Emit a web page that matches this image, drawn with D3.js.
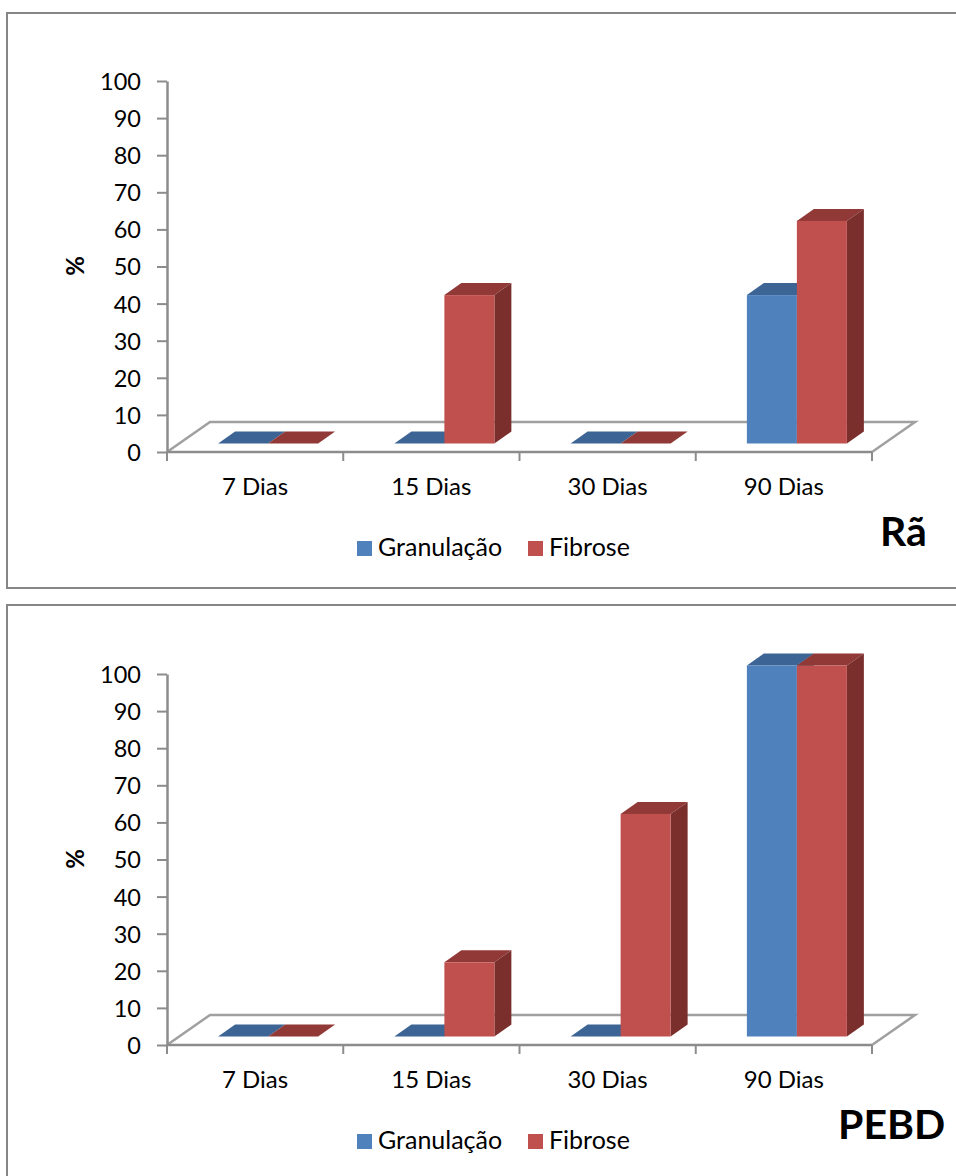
<!DOCTYPE html>
<html>
<head>
<meta charset="utf-8">
<script src="https://cdn.jsdelivr.net/npm/d3@7"></script>
<style>
	html, body { margin: 0; padding: 0; background: #fff; }
	svg { display: block; }
	text { font-family: Lato, "Noto Sans", sans-serif; fill: #000; }
</style>
</head>
<body>
<div id="chart"></div>
<script>
// Data
const categories = ['7 Dias', '15 Dias', '30 Dias', '90 Dias'];
const seriesNames = ['Granulação', 'Fibrose'];
const yTicks = [0, 10, 20, 30, 40, 50, 60, 70, 80, 90, 100];
const raGranulacao = [0, 0, 0, 40];
const raFibrose = [0, 40, 0, 60];
const pebdGranulacao = [0, 0, 0, 100];
const pebdFibrose = [0, 20, 60, 100];

const colors = ['#4f81bd', '#c0504d'];
const topColors = ['#3c6494', '#913937'];
const sideColors = ['#335580', '#7b2f2d'];
const axisColor = '#8c8c8c';

const svg = d3.select('#chart').append('svg').attr('width', 956).attr('height', 1176);

// 3D offsets of the floor and of the bars
const floorDx = 43, floorDy = -30;
const barDx = 17, barDy = -12;

function drawPanel(originY, frameTop, frameBottom, title, titleX, values) {
	const g = svg.append('g').attr('transform', `translate(0,${originY})`);

	// Panel frame, open on the right side
	const frame = frameBottom === null
		? `M956,${frameTop}H7V1176`
		: `M956,${frameTop}H7V${frameBottom}H956`;
	svg.append('path')
		.attr('d', frame)
		.attr('fill', 'none')
		.attr('stroke', '#868686')
		.attr('stroke-width', 2);

	const x = d3.scaleBand().domain(categories).range([167, 872]);
	const y = d3.scaleLinear().domain([0, 100]).range([452, 81]);
	const series = d3.scaleBand().domain(d3.range(2)).range([0, 100]);

	// Floor
	g.append('path')
		.attr('d', `M167,452L${167 + floorDx},${452 + floorDy}H${872 + floorDx}L872,452`)
		.attr('fill', 'none')
		.attr('stroke', '#a0a0a0')
		.attr('stroke-width', 2.5);

	// Bars, the base sits above the axis and they shift right of the band centre
	const baseY = -8.5;
	values.forEach((vals, s) => {
		vals.forEach((v, i) => {
			const left = x(categories[i]) + x.bandwidth() / 2 + 13 - 50 + series(s);
			const w = series.bandwidth();
			const top = y(v) + baseY;
			const bottom = y(0) + baseY;

			g.append('path')
				.attr('d', `M${left},${top}l${barDx},${barDy}h${w}l${-barDx},${-barDy}z`)
				.attr('fill', topColors[s]);
			if (v > 0) {
				g.append('path')
					.attr('d', `M${left + w},${top}l${barDx},${barDy}V${bottom + barDy}l${-barDx},${-barDy}z`)
					.attr('fill', sideColors[s]);
				g.append('rect')
					.attr('x', left)
					.attr('y', top)
					.attr('width', w)
					.attr('height', bottom - top)
					.attr('fill', colors[s]);
			}
		});
	});

	// Y axis
	const yAxis = g.append('g')
		.attr('transform', 'translate(167,0)')
		.call(d3.axisLeft(y).tickValues(yTicks).tickSize(10).tickPadding(16).tickSizeOuter(0));
	yAxis.select('.domain').attr('stroke', axisColor).attr('stroke-width', 2.5);
	yAxis.selectAll('line').attr('stroke', axisColor).attr('stroke-width', 2);
	yAxis.selectAll('text')
		.style('font-family', 'Lato')
		.style('font-size', '23.5px')
		.attr('dy', '0.36em');

	// X axis: ticks sit on the band edges
	const xAxis = g.append('g').attr('transform', 'translate(0,452)');
	xAxis.append('line')
		.attr('x1', 167).attr('x2', 872)
		.attr('stroke', axisColor).attr('stroke-width', 2.5);
	xAxis.selectAll('.edge')
		.data(categories.concat(['end']))
		.enter()
		.append('line')
		.attr('class', 'edge')
		.attr('x1', (d, i) => (i < 4 ? x(d) : x.range()[1]))
		.attr('x2', (d, i) => (i < 4 ? x(d) : x.range()[1]))
		.attr('y1', 0).attr('y2', 9)
		.attr('stroke', axisColor).attr('stroke-width', 2);
	xAxis.selectAll('.label')
		.data(categories)
		.enter()
		.append('text')
		.attr('class', 'label')
		.attr('x', (d) => x(d) + x.bandwidth() / 2)
		.attr('y', 43)
		.attr('text-anchor', 'middle')
		.style('font-size', '24px')
		.text((d) => d);

	// Y title
	g.append('text')
		.attr('transform', 'translate(84,266) rotate(-90)')
		.attr('text-anchor', 'middle')
		.style('font-size', '24px')
		.style('font-weight', 700)
		.text('%');

	// Legend
	const legendX = [357, 528];
	seriesNames.forEach((name, s) => {
		g.append('rect')
			.attr('x', legendX[s]).attr('y', 541)
			.attr('width', 15).attr('height', 15)
			.attr('fill', colors[s]);
		g.append('text')
			.attr('x', legendX[s] + 21).attr('y', 556)
			.style('font-size', '25px')
			.text(name);
	});

	// Panel name
	g.append('text')
		.attr('x', titleX).attr('y', 546)
		.style('font-size', '41px')
		.style('font-weight', 700)
		.text(title);
}

drawPanel(0, 13, 588, 'Rã', 880, [raGranulacao, raFibrose]);
drawPanel(593, 605, null, 'PEBD', 838, [pebdGranulacao, pebdFibrose]);
</script>
</body>
</html>
